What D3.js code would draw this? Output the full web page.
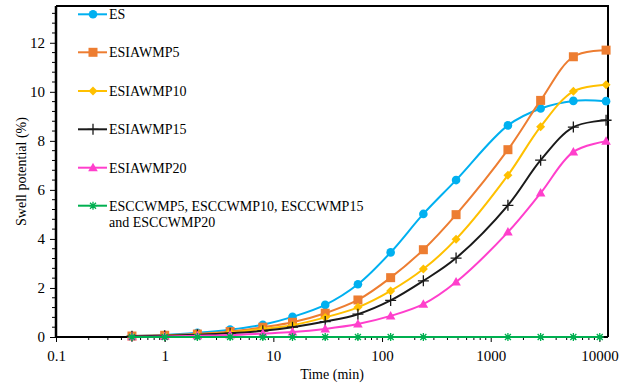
<!DOCTYPE html>
<html>
<head>
<meta charset="utf-8">
<script src="https://cdn.jsdelivr.net/npm/d3@7"></script>
<style>
  body { margin: 0; background: #fff; }
  text { font-family: "Liberation Serif", "Times New Roman", serif; }
</style>
</head>
<body>
<svg width="625" height="387"></svg>
<script>
// ---- data ----
const times = [0.5, 1, 2, 4, 8, 15, 30, 60, 120, 240, 480, 1440, 2880, 5760, 11520];
const esValues = [0.04, 0.08, 0.17, 0.30, 0.50, 0.82, 1.31, 2.15, 3.45, 5.02, 6.40, 8.63, 9.32, 9.63, 9.62];
const p5Values = [0.04, 0.07, 0.12, 0.22, 0.40, 0.60, 0.97, 1.51, 2.42, 3.56, 4.99, 7.64, 9.65, 11.43, 11.70];
const p10Values = [0.03, 0.05, 0.10, 0.18, 0.33, 0.48, 0.80, 1.21, 1.88, 2.77, 3.99, 6.60, 8.58, 10.02, 10.29];
const p15Values = [0.03, 0.05, 0.09, 0.15, 0.25, 0.40, 0.63, 0.93, 1.49, 2.29, 3.22, 5.37, 7.21, 8.56, 8.84];
const p20Values = [0.01, 0.02, 0.05, 0.08, 0.14, 0.20, 0.33, 0.53, 0.86, 1.34, 2.24, 4.28, 5.87, 7.55, 7.98];
const ccTimes = [0.5, 1, 2, 4, 8, 15, 30, 60, 120, 240, 1440, 2880, 5760, 10080];
const ccValues = [0, 0, 0, 0, 0, 0, 0, 0, 0, 0, 0, 0, 0, 0];

const seriesNames = ["ES", "ESIAWMP5", "ESIAWMP10", "ESIAWMP15", "ESIAWMP20",
  "ESCCWMP5, ESCCWMP10, ESCCWMP15"];
const legendSecondLine = "and ESCCWMP20";
const xTicks = [0.1, 1, 10, 100, 1000, 10000];
const yTicks = [0, 2, 4, 6, 8, 10, 12];

// ---- layout ----
const margin = { left: 56, top: 6, right: 17, bottom: 50 };
const width = 625, height = 387;
const innerW = width - margin.left - margin.right;
const innerH = height - margin.top - margin.bottom;

const series = [
  { name: seriesNames[0], t: times, v: esValues, color: "#00B0F0", marker: "circle" },
  { name: seriesNames[1], t: times, v: p5Values, color: "#ED7D31", marker: "square" },
  { name: seriesNames[2], t: times, v: p10Values, color: "#FFC000", marker: "diamond" },
  { name: seriesNames[3], t: times, v: p15Values, color: "#1a1a1a", marker: "plus" },
  { name: seriesNames[4], t: times, v: p20Values, color: "#FF3FCC", marker: "triangle" },
  { name: seriesNames[5], t: ccTimes, v: ccValues, color: "#00B050", marker: "star" }
];

const x = d3.scaleLog().domain([0.1, 12000]).range([0, innerW]);
const y = d3.scaleLinear().domain([0, 13.5]).range([innerH, 0]);

const svg = d3.select("svg");
const g = svg.append("g").attr("transform", `translate(${margin.left},${margin.top})`);

// frame (top and right)
g.append("path")
  .attr("d", `M0,0H${innerW}V${innerH}`)
  .attr("fill", "none").attr("stroke", "#000").attr("stroke-width", 2);

// y minor ticks
const yMinor = d3.range(0, 13.5, 0.4).filter(v => Math.abs(v / 2 - Math.round(v / 2)) > 0.01);
g.append("g").selectAll("line").data(yMinor).join("line")
  .attr("x1", -4).attr("x2", 0)
  .attr("y1", d => y(d)).attr("y2", d => y(d))
  .attr("stroke", "#000").attr("stroke-width", 1);

// y axis
const yAxis = g.append("g")
  .call(d3.axisLeft(y).tickValues(yTicks).tickSize(6).tickPadding(5).tickFormat(d3.format("d")));
yAxis.select(".domain").attr("stroke-width", 2.5).attr("d", `M0,0V${innerH}`);
yAxis.selectAll("text").attr("font-size", 15).attr("font-family", "Liberation Serif").attr("fill", "#000");

// x minor ticks (log)
const xMinor = [];
for (let e = -1; e <= 4; e++) {
  for (let k = 2; k <= 9; k++) {
    const v = k * Math.pow(10, e);
    if (v < 12000) xMinor.push(v);
  }
}
g.append("g").selectAll("line").data(xMinor).join("line")
  .attr("x1", d => x(d)).attr("x2", d => x(d))
  .attr("y1", innerH).attr("y2", innerH + 3)
  .attr("stroke", "#000").attr("stroke-width", 1);

const xAxis = g.append("g").attr("transform", `translate(0,${innerH})`)
  .call(d3.axisBottom(x).tickValues(xTicks).tickSize(5).tickPadding(8)
    .tickFormat(d => d < 1 ? "0.1" : d3.format("d")(d)));
xAxis.select(".domain").attr("stroke-width", 2).attr("d", `M0,0H${innerW}`);
xAxis.selectAll("text").attr("font-size", 15).attr("font-family", "Liberation Serif").attr("fill", "#000");

// axis titles
svg.append("text")
  .attr("x", margin.left + innerW / 2).attr("y", 379)
  .attr("text-anchor", "middle").attr("font-size", 14)
  .text("Time (min)");
svg.append("text")
  .attr("transform", `translate(26,${margin.top + innerH / 2}) rotate(-90)`)
  .attr("text-anchor", "middle").attr("font-size", 14)
  .text("Swell potential (%)");

// markers
function drawMarker(sel, type, color) {
  if (type === "circle") {
    sel.append("circle").attr("r", 4.3).attr("fill", color);
  } else if (type === "square") {
    sel.append("rect").attr("x", -4.5).attr("y", -4.5).attr("width", 9).attr("height", 9).attr("fill", color);
  } else if (type === "diamond") {
    sel.append("path").attr("d", "M0,-4.5L4.5,0L0,4.5L-4.5,0Z").attr("fill", color);
  } else if (type === "triangle") {
    sel.append("path").attr("d", "M0,-5L4.8,3.5L-4.8,3.5Z").attr("fill", color);
  } else if (type === "plus") {
    sel.append("path").attr("d", "M-5.5,0H5.5M0,-5.5V5.5").attr("stroke", color).attr("stroke-width", 1.3);
  } else if (type === "star") {
    sel.append("path").attr("d", "M-4,0H4M0,-4V4M-3,-3L3,3M-3,3L3,-3").attr("stroke", color).attr("stroke-width", 1.3);
  }
}

const line = d3.line()
  .x(d => x(d[0])).y(d => y(d[1]))
  .curve(d3.curveCatmullRom.alpha(0.5));

// draw series (green last so it sits on top of the baseline)
series.forEach(s => {
  const pts = s.t.map((t, i) => [t, s.v[i]]);
  const sg = g.append("g");
  sg.append("path").datum(pts)
    .attr("d", line).attr("fill", "none")
    .attr("stroke", s.color).attr("stroke-width", 2);
  sg.selectAll("g.m").data(pts).join("g").attr("class", "m")
    .attr("transform", d => `translate(${x(d[0])},${y(d[1])})`)
    .each(function () { drawMarker(d3.select(this), s.marker, s.color); });
});

// legend
const legendRows = [14.3, 52.3, 91, 129.3, 167.7, 205.7];
const lg = svg.append("g");
series.forEach((s, i) => {
  const row = lg.append("g").attr("transform", `translate(0,${legendRows[i]})`);
  row.append("line").attr("x1", 78).attr("x2", 107).attr("y1", 0).attr("y2", 0)
    .attr("stroke", s.color).attr("stroke-width", 2);
  drawMarker(row.append("g").attr("transform", "translate(93,0)"), s.marker, s.color);
  row.append("text").attr("x", 109).attr("y", 5).attr("font-size", 14).text(s.name);
});
lg.append("text").attr("x", 109).attr("y", legendRows[5] + 21).attr("font-size", 14).text(legendSecondLine);
</script>
</body>
</html>
